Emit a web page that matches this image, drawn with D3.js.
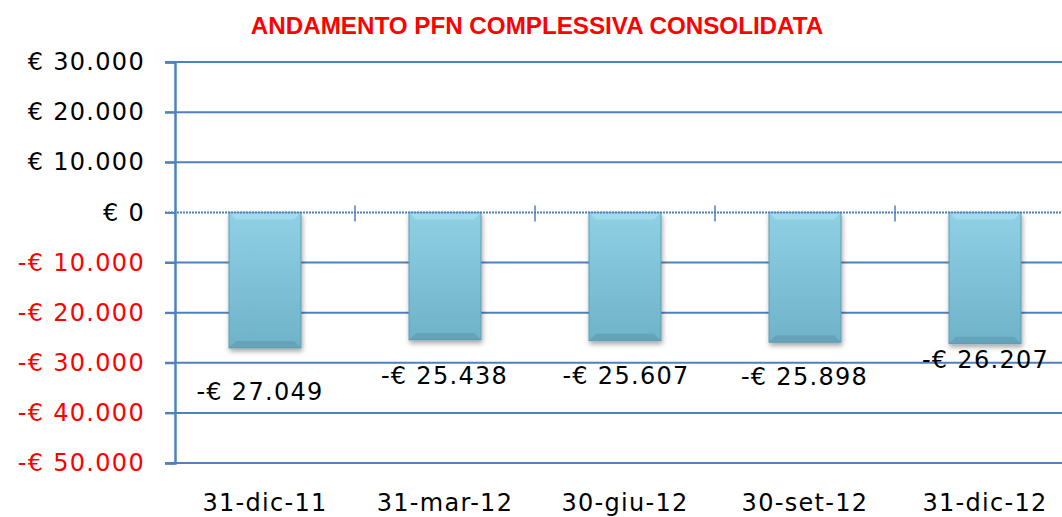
<!DOCTYPE html>
<html>
<head>
<meta charset="utf-8">
<script src="https://cdn.jsdelivr.net/npm/d3@7"></script>
<style>
  body { margin: 0; background: #fff; }
  text { font-family: "DejaVu Sans", sans-serif; }
</style>
</head>
<body>
<div id="chart"></div>
<script>
// data
const categories = ["31-dic-11", "31-mar-12", "30-giu-12", "30-set-12", "31-dic-12"];
const values = [-27049, -25438, -25607, -25898, -26207];
const yTicks = [30000, 20000, 10000, 0, -10000, -20000, -30000, -40000, -50000];

// label nudges (px), labels were dragged by hand in the original
const labelDx = [-5, -0.5, 1, -0.5, 0.5];
const labelDy = [44, 36, 35, 34, 16];

// constants
const width = 1062, height = 517;
const margin = {top: 62, right: -13, bottom: 54, left: 175};
const gridColor = "#4f81bd";
const fontSize = 24;
const spacing = "1.3px";

const fmt = v => {
  const s = d3.format(",")(Math.abs(v)).replace(/,/g, ".");
  return (v < 0 ? "-€ " : "€ ") + s;
};

const svg = d3.select("#chart")
  .append("svg")
  .attr("width", width)
  .attr("height", height);

const defs = svg.append("defs");
const grad = defs.append("linearGradient")
  .attr("id", "barGrad")
  .attr("x1", 0).attr("y1", 0).attr("x2", 0).attr("y2", 1);
grad.append("stop").attr("offset", "0%").attr("stop-color", "#8fd0e4");
grad.append("stop").attr("offset", "100%").attr("stop-color", "#6fb3c9");

const shadow = defs.append("filter").attr("id", "shadow")
  .attr("x", "-20%").attr("y", "-10%").attr("width", "140%").attr("height", "130%");
shadow.append("feDropShadow")
  .attr("dx", 1).attr("dy", 3).attr("stdDeviation", 2.5)
  .attr("flood-color", "#000").attr("flood-opacity", 0.35);

// scales
const x = d3.scaleBand()
  .domain(categories)
  .range([margin.left, width - margin.right])
  .paddingInner(0.6)
  .paddingOuter(0.3);

const y = d3.scaleLinear()
  .domain([-50000, 30000])
  .range([height - margin.bottom, margin.top]);

// title
svg.append("text")
  .attr("x", 537)
  .attr("y", 34)
  .attr("text-anchor", "middle")
  .attr("fill", "#ff0000")
  .attr("font-weight", "bold")
  .style("font-family", "'Liberation Sans Narrow', 'Arial Narrow', sans-serif")
  .attr("font-size", 24.2)
  .text("ANDAMENTO PFN COMPLESSIVA CONSOLIDATA");

// horizontal grid (skip zero, drawn as category axis)
svg.append("g")
  .selectAll("line")
  .data(yTicks.filter(d => d !== 0))
  .join("line")
  .attr("x1", margin.left - 10)
  .attr("x2", width)
  .attr("y1", d => y(d))
  .attr("y2", d => y(d))
  .attr("stroke", gridColor)
  .attr("stroke-width", 2);

// y axis
const yAxis = svg.append("g")
  .attr("transform", `translate(${margin.left},0)`)
  .call(d3.axisLeft(y).tickValues(yTicks).tickSize(10).tickPadding(20).tickFormat(fmt));
yAxis.select(".domain").attr("stroke", gridColor).attr("stroke-width", 2.5);
yAxis.selectAll(".tick line").attr("stroke", gridColor).attr("stroke-width", 2);
yAxis.selectAll(".tick text")
  .attr("font-size", fontSize)
  .style("font-family", "'DejaVu Sans', sans-serif")
  .style("letter-spacing", spacing)
  .attr("fill", d => d < 0 ? "#ff0000" : "#000");

// bars
svg.append("g")
  .selectAll("rect")
  .data(values)
  .join("rect")
  .attr("x", (d, i) => x(categories[i]))
  .attr("y", d => y(Math.max(0, d)))
  .attr("width", x.bandwidth())
  .attr("height", d => Math.abs(y(d) - y(0)))
  .attr("fill", "url(#barGrad)")
  .attr("stroke", "#5e9db2")
  .attr("stroke-width", 1)
  .attr("filter", "url(#shadow)");

// bevel highlight on bars
const bev = 7;
svg.append("g")
  .selectAll("path")
  .data(values)
  .join("path")
  .attr("d", (d, i) => {
    const x0 = x(categories[i]), x1 = x0 + x.bandwidth();
    const y0 = y(0);
    return `M${x0},${y0}L${x1},${y0}L${x1 - bev},${y0 + bev}L${x0 + bev},${y0 + bev}Z`;
  })
  .attr("fill", "#a9dff0")
  .attr("opacity", 0.7);
svg.append("g")
  .selectAll("path")
  .data(values)
  .join("path")
  .attr("d", (d, i) => {
    const x0 = x(categories[i]), x1 = x0 + x.bandwidth();
    const y1 = y(d);
    return `M${x0},${y1}L${x1},${y1}L${x1 - bev},${y1 - bev}L${x0 + bev},${y1 - bev}Z`;
  })
  .attr("fill", "#5b98ad")
  .attr("opacity", 0.6);

// zero / category axis
svg.append("line")
  .attr("x1", margin.left - 10)
  .attr("x2", width)
  .attr("y1", y(0))
  .attr("y2", y(0))
  .attr("stroke", gridColor)
  .attr("stroke-width", 2)
  .attr("stroke-dasharray", "2,1");

svg.append("g")
  .selectAll("line")
  .data(categories.slice(1))
  .join("line")
  .attr("x1", d => x(d) - x.step() * x.paddingInner() / 2)
  .attr("x2", d => x(d) - x.step() * x.paddingInner() / 2)
  .attr("y1", y(0) - 7)
  .attr("y2", y(0) + 9)
  .attr("stroke", gridColor)
  .attr("stroke-width", 1.5);

// value labels
svg.append("g")
  .selectAll("text")
  .data(values)
  .join("text")
  .attr("x", (d, i) => x(categories[i]) + x.bandwidth() / 2 + labelDx[i])
  .attr("y", (d, i) => y(d) + labelDy[i])
  .attr("dy", "0.35em")
  .attr("text-anchor", "middle")
  .attr("font-size", fontSize)
  .style("letter-spacing", spacing)
  .attr("fill", "#000")
  .text(fmt);

// category labels
svg.append("g")
  .selectAll("text")
  .data(categories)
  .join("text")
  .attr("x", d => x(d) + x.bandwidth() / 2)
  .attr("y", 503)
  .attr("dy", "0.35em")
  .attr("text-anchor", "middle")
  .attr("font-size", fontSize)
  .style("letter-spacing", spacing)
  .attr("fill", "#000")
  .text(d => d);
</script>
</body>
</html>
